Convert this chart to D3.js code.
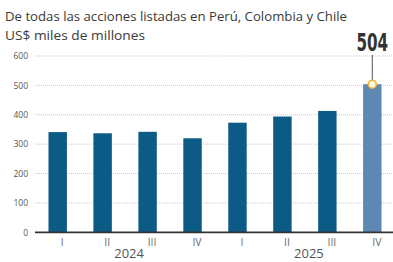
<!DOCTYPE html>
<html><head><meta charset="utf-8">
<script src="https://cdn.jsdelivr.net/npm/d3@7"></script>
<style>body{margin:0;background:#fff}svg{display:block}</style>
</head><body>
<svg id="c" width="393" height="262"></svg>
<script>
const quarters = ["I","II","III","IV","I","II","III","IV"];
const years = ["2024","2025"];
const values = [341, 337, 342, 320, 373, 394, 413, 504];
const yTicks = [0,100,200,300,400,500,600];
const subtitle = ["De todas las acciones listadas en Perú, Colombia y Chile","US$ miles de millones"];

const svg = d3.select("#c");
const x = d3.scaleBand().domain(d3.range(values.length)).range([35, 395]).paddingInner(0.59).paddingOuter(0.3);
const y = d3.scaleLinear().domain([0,600]).range([232.3, 56]);

svg.selectAll("text.sub").data(subtitle).join("text")
  .attr("x", 5).attr("y", (d,i)=> 20.5 + i*19.5)
  .attr("font-family","Open Sans").attr("font-size",13.3).attr("fill","#3a3a3a")
  .attr("textLength",(d,i)=> i===0 ? 342 : 140).attr("lengthAdjust","spacingAndGlyphs")
  .text(d=>d);

// grid
svg.append("g").selectAll("line").data(yTicks.filter(d=>d>0)).join("line")
  .attr("x1",35).attr("x2",393).attr("y1",d=>y(d)).attr("y2",d=>y(d))
  .attr("stroke","#b0b0b0").attr("stroke-width",0.7).attr("stroke-dasharray","1,1");

const ya = svg.append("g").attr("transform","translate(28,0)")
  .call(d3.axisLeft(y).tickValues(yTicks).tickSize(0).tickPadding(0));
ya.select(".domain").remove();
ya.selectAll("text").attr("font-family","Open Sans").attr("font-size",8.5).attr("fill","#555");

// bars
svg.selectAll("rect.bar").data(values).join("rect")
  .attr("x",(d,i)=>x(i)).attr("width",x.bandwidth())
  .attr("y",d=>y(d)).attr("height",d=>y(0)-y(d))
  .attr("fill",(d,i)=> i===values.length-1 ? "#5e88b4" : "#0c5b86");

// baseline
svg.append("line").attr("x1",35).attr("x2",393).attr("y1",y(0)).attr("y2",y(0))
  .attr("stroke","#333").attr("stroke-width",1.8);

// quarter labels
const xg = svg.append("g").attr("transform",`translate(4.5,${y(0)+6})`)
  .call(d3.axisBottom(x).tickFormat(i=>quarters[i]).tickSize(0).tickPadding(0));
xg.select(".domain").remove();
xg.selectAll("text").attr("font-family","Open Sans").attr("font-size",10.5).attr("fill","#6a6a6a");

// year labels
svg.selectAll("text.yr").data(years).join("text")
  .attr("x",(d,k)=> (x(k*4+1)+x(k*4+2))/2 + x.bandwidth()/2 + 4)
  .attr("y",258).attr("text-anchor","middle")
  .attr("font-family","Open Sans").attr("font-size",13).attr("fill","#555")
  .text(d=>d);

// highlight last
const li = values.length-1, lv = values[li];
const cx = x(li)+x.bandwidth()/2;
svg.append("line").attr("x1",cx).attr("x2",cx).attr("y1",y(lv)).attr("y2",55)
  .attr("stroke","#555").attr("stroke-width",1);
svg.append("circle").attr("cx",cx).attr("cy",y(lv)).attr("r",4)
  .attr("fill","#fff7dc").attr("stroke","#f0b43c").attr("stroke-width",1.6);
svg.append("text").attr("transform",`translate(${cx},51) scale(0.62,1)`).attr("text-anchor","middle")
  .attr("font-family","DejaVu Sans").attr("font-weight","bold")
  .attr("font-size",24.5).attr("fill","#333").text(lv);
</script>
</body></html>
